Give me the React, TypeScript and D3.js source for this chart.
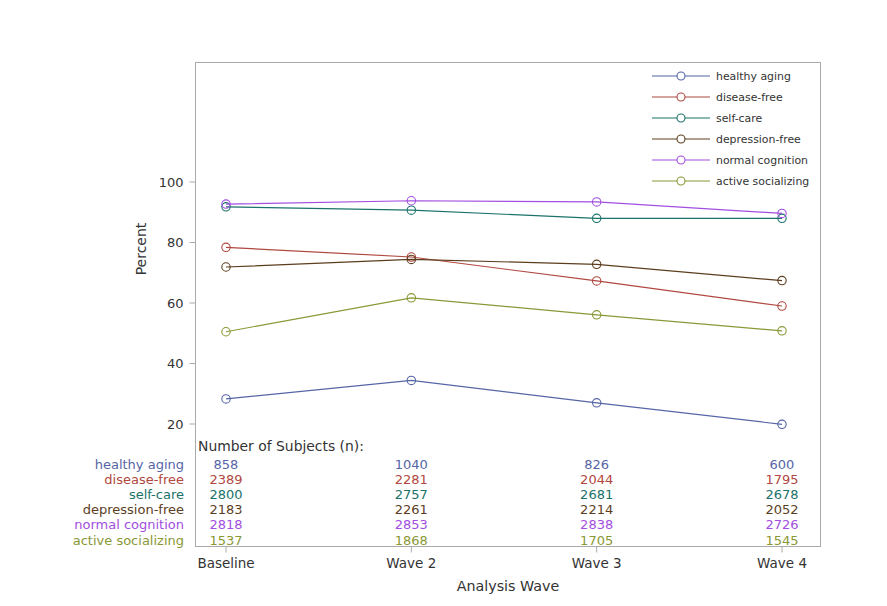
import React from "react";
import * as d3 from "d3";

const waves = ["Baseline", "Wave 2", "Wave 3", "Wave 4"];
const seriesNames = ["healthy aging", "disease-free", "self-care", "depression-free", "normal cognition", "active socializing"];
const seriesColors = ["#5565a6", "#b04840", "#1a726a", "#5c3e1e", "#a24ee0", "#8a9836"];

const healthyAging = [28.3, 34.4, 27.0, 19.9];
const diseaseFree = [78.4, 75.2, 67.3, 59.0];
const selfCare = [91.8, 90.7, 88.0, 88.0];
const depressionFree = [71.9, 74.4, 72.8, 67.4];
const normalCognition = [92.7, 93.8, 93.4, 89.6];
const activeSocializing = [50.5, 61.7, 56.1, 50.8];

const nHealthyAging = [858, 1040, 826, 600];
const nDiseaseFree = [2389, 2281, 2044, 1795];
const nSelfCare = [2800, 2757, 2681, 2678];
const nDepressionFree = [2183, 2261, 2214, 2052];
const nNormalCognition = [2818, 2853, 2838, 2726];
const nActiveSocializing = [1537, 1868, 1705, 1545];

const yTicks = [20, 40, 60, 80, 100];

const values = [healthyAging, diseaseFree, selfCare, depressionFree, normalCognition, activeSocializing];
const counts = [nHealthyAging, nDiseaseFree, nSelfCare, nDepressionFree, nNormalCognition, nActiveSocializing];

const FONT = "'DejaVu Sans', sans-serif";

export default function App() {
  const W = 887, H = 606;
  const frame = { left: 195.5, top: 62.5, right: 820.5, bottom: 546.5 };
  const x = d3.scalePoint<string>().domain(waves).range([226, 782]);
  const y = d3.scaleLinear().domain([20, 100]).range([424, 182]);
  const line = d3.line<number>().x((_, i) => x(waves[i]) as number).y((d) => y(d));
  const tableTop = 464;
  const rowH = 15.2;
  const axisColor = "#aaaaaa";
  const textColor = "#333";

  return (
    <svg width={W} height={H} style={{ position: "absolute", left: 0, top: 0, background: "#fff" }} fontFamily={FONT}>
      <rect x={frame.left} y={frame.top} width={frame.right - frame.left} height={frame.bottom - frame.top} fill="none" stroke={axisColor} strokeWidth={1} />
      {yTicks.map((t) => (
        <g key={t}>
          <line x1={frame.left - 6} x2={frame.left} y1={y(t)} y2={y(t)} stroke={axisColor} />
          <text x={frame.left - 12} y={y(t)} dy="0.35em" textAnchor="end" fontSize={13} fill={textColor}>{t}</text>
        </g>
      ))}
      <text transform={`translate(141,249) rotate(-90)`} textAnchor="middle" dy="0.35em" fontSize={14} fill={textColor}>Percent</text>
      {waves.map((w) => (
        <g key={w}>
          <line x1={x(w)} x2={x(w)} y1={frame.bottom} y2={frame.bottom + 6} stroke={axisColor} />
          <text x={x(w)} y={frame.bottom + 17} dy="0.35em" textAnchor="middle" fontSize={13.5} fill={textColor}>{w}</text>
        </g>
      ))}
      <text x={(frame.left + frame.right) / 2} y={586} dy="0.35em" textAnchor="middle" fontSize={14.3} fill={textColor}>Analysis Wave</text>
      {values.map((vals, si) => (
        <g key={si}>
          <path d={line(vals) as string} fill="none" stroke={seriesColors[si]} strokeWidth={1.2} />
          {vals.map((v, i) => (
            <circle key={i} cx={x(waves[i])} cy={y(v)} r={4.2} fill="none" stroke={seriesColors[si]} strokeWidth={1.1} />
          ))}
        </g>
      ))}
      {seriesNames.map((n, si) => {
        const ly = 76 + si * 21;
        return (
          <g key={n}>
            <line x1={652} x2={710} y1={ly} y2={ly} stroke={seriesColors[si]} strokeWidth={1.2} />
            <circle cx={681} cy={ly} r={4} fill="#fff" stroke={seriesColors[si]} strokeWidth={1.1} />
            <text x={716} y={ly} dy="0.35em" fontSize={10.9} fill={textColor}>{n}</text>
          </g>
        );
      })}
      <text x={198} y={446} dy="0.35em" fontSize={13.9} fill={textColor}>Number of Subjects (n):</text>
      {seriesNames.map((n, si) => (
        <g key={n}>
          <text x={184} y={tableTop + si * rowH} dy="0.35em" textAnchor="end" fontSize={13} fill={seriesColors[si]}>{n}</text>
          {counts[si].map((c, i) => (
            <text key={i} x={x(waves[i])} y={tableTop + si * rowH} dy="0.35em" textAnchor="middle" fontSize={13} fill={seriesColors[si]}>{c}</text>
          ))}
        </g>
      ))}
    </svg>
  );
}
